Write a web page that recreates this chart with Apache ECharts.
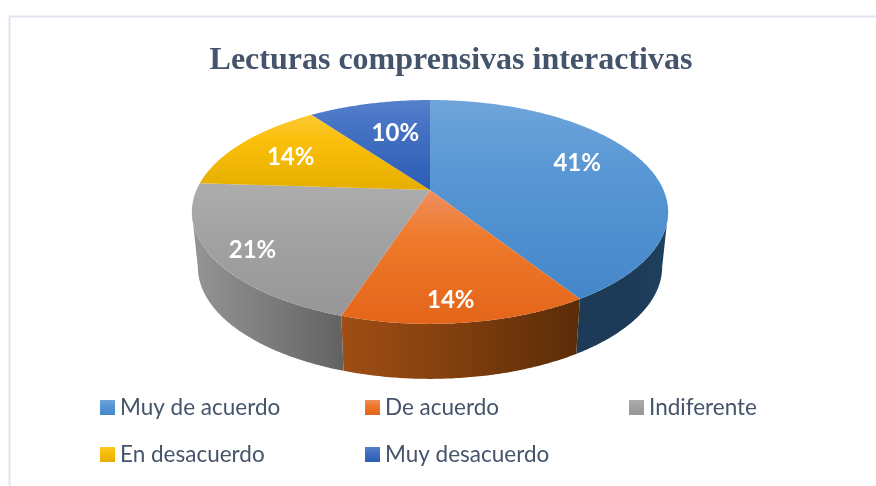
<!DOCTYPE html>
<html><head><meta charset="utf-8">
<style>html,body{margin:0;padding:0;background:#fff}#c{width:876px;height:486px}</style>
<script src="https://cdn.jsdelivr.net/npm/echarts@6/dist/echarts.min.js"></script>
</head><body><div id="c"></div>
<script>
var titleText = 'Lecturas comprensivas interactivas';
var categories = ['Muy de acuerdo','De acuerdo','Indiferente','En desacuerdo','Muy desacuerdo'];
var seriesValues = [41,14,21,14,10];

// Styles (top face top→bottom, wall left→mid→right)
var topColors = [['#6fa5da','#5997d5','#4487c9'],['#ef8f5f','#ef7a2c','#e4651a'],['#adadad','#a3a3a3','#979797'],['#fdc832','#fabf0a','#e5ae00'],['#5580cc','#4370c2','#2b5db5']];
var wallColors = [['#1d3a56','#1c3a56','#1f405f'],['#a04e14','#7f3e0d','#5a2c08'],['#959595','#7c7c7c','#626262'],['#8a6800','#8a6800','#8a6800'],['#1a3a70','#1a3a70','#1a3a70']];
var labelNudge = [[-4,-6],[-3,24],[-31,14],[-5,1],[10,7]];
var legendSlots = [[100,396],[365,396],[629,396],[100,443],[365,443]];

// Projection of a unit disc into the tilted perspective view
var CX=430, CY=190, A=233.5, B=70.4, K=-0.196, DEPTH=55, SHRINK=0.975, VIS=0.1965, LABEL_R=0.7;
function proj(th,f){
  var u=Math.sin(th)*f, v=-Math.cos(th)*f, w=1+K*v;
  return [CX+A*u/w,(B*v+CY)/w];
}
function lower(p){ return [CX+(p[0]-CX)*SHRINK,p[1]+DEPTH]; }
function vgrad(c){ return new echarts.graphic.LinearGradient(0,0,0,1,[{offset:0,color:c[0]},{offset:.35,color:c[1]},{offset:1,color:c[2]}]); }
function hgrad(c){ return new echarts.graphic.LinearGradient(0,0,1,0,[{offset:0,color:c[0]},{offset:.5,color:c[1]},{offset:1,color:c[2]}]); }

var total=seriesValues.reduce(function(a,b){return a+b;},0);
var wallMin=Math.PI-Math.acos(VIS), wallMax=Math.PI+Math.acos(VIS);
var cum=0;
var starts=seriesValues.map(function(v){var s=cum;cum+=v;return s;});

function sampleArc(a,b){
  var n=Math.max(2,Math.ceil((b-a)/0.01)),pts=[];
  for(var i=0;i<=n;i++) pts.push(proj(a+(b-a)*i/n,1));
  return pts;
}
function makeRender(idx){
  return function(params,api){
    var val=api.value(0);
    var a=starts[idx]/total*2*Math.PI, b=(starts[idx]+val)/total*2*Math.PI;
    var kids=[];
    var wa=Math.max(a,wallMin), wb=Math.min(b,wallMax);
    if(wb>wa){
      var rim=sampleArc(wa,wb);
      var low=rim.map(lower).reverse();
      kids.push({type:'polygon',shape:{points:rim.concat(low)},style:{fill:hgrad(wallColors[idx])}});
    }
    var top=[proj(0,0)].concat(sampleArc(a,b));
    kids.push({type:'polygon',shape:{points:top},style:{fill:vgrad(topColors[idx])},z2:2});
    var m=(a+b)/2, lp=proj(m,LABEL_R);
    kids.push({type:'text',z2:5,x:lp[0]+labelNudge[idx][0],y:lp[1]+labelNudge[idx][1],
      style:{text:Math.round(val/total*100)+'%',fill:'#ffffff',font:'bold 24px Lato',align:'center',verticalAlign:'middle'}});
    return {type:'group',children:kids};
  };
}
var FONT='Lato';
var option={
  backgroundColor:'#ffffff',
  animation:false,
  title:{text:titleText,left:446,top:40,textAlign:'center',
    textStyle:{fontFamily:'Liberation Serif',fontWeight:'bold',fontSize:32,color:'#44546a'}},
  legend:categories.map(function(name,i){return {
    data:[name],left:legendSlots[i][0],top:legendSlots[i][1],padding:0,orient:'horizontal',
    itemWidth:15,itemHeight:15,icon:'rect',selectedMode:false,
    textStyle:{fontFamily:FONT,fontSize:22.5,color:'#44546a'}
  };}),
  graphic:[
    {type:'polyline',silent:true,shape:{points:[[9.5,486],[9.5,16.5],[876,16.5]]},style:{fill:null,stroke:'#dfe6ef',lineWidth:2}}
  ],
  series:categories.map(function(name,i){return {
    type:'custom',name:name,coordinateSystem:'none',silent:true,
    itemStyle:{color:vgrad(topColors[i])},
    data:[[seriesValues[i]]],
    renderItem:makeRender(i)
  };})
};
var chart=echarts.init(document.getElementById('c'),null,{renderer:'canvas'});
chart.setOption(option);
</script></body></html>
